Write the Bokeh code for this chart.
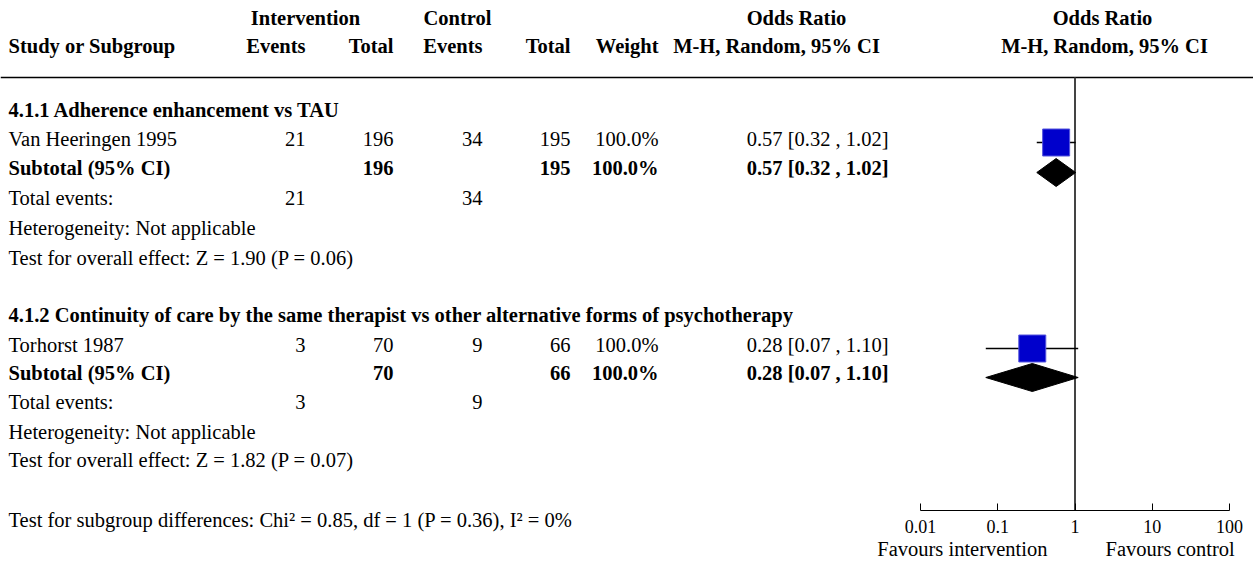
from bokeh.plotting import figure
from bokeh.models import (Range1d, LogScale, LogAxis, FixedTicker,
                          ColumnDataSource, CustomJSTickFormatter)
from bokeh.core.properties import value
from bokeh.embed import file_html
from bokeh.resources import INLINE
import math

# ---------------- data ----------------
subgroups = ["4.1.1 Adherence enhancement vs TAU",
             "4.1.2 Continuity of care by the same therapist vs other alternative forms of psychotherapy"]
studies = ["Van Heeringen 1995", "Torhorst 1987"]
int_events = [21, 3]
int_total = [196, 70]
ctrl_events = [34, 9]
ctrl_total = [195, 66]
weights = [100.0, 100.0]
or_est = [0.57, 0.28]
or_lo = [0.32, 0.07]
or_hi = [1.02, 1.10]
sub_weights = [100.0, 100.0]
sub_est = [0.57, 0.28]
sub_lo = [0.32, 0.07]
sub_hi = [1.02, 1.10]
z_values = ["1.90", "1.82"]
p_values = ["0.06", "0.07"]
subgroup_test = "Test for subgroup differences: Chi\u00b2 = 0.85, df = 1 (P = 0.36), I\u00b2 = 0%"
ticks = [0.01, 0.1, 1, 10, 100]
favours = ["Favours intervention", "Favours control"]

# ---------------- layout ----------------
FONT = value("Liberation Serif")
FS = "20.5px"
W, H = 1253, 561
OR_PX0 = 920.0                    # pixel of OR = 0.01
DEC = 77.25                       # pixels per decade
AXIS_Y = 510
log_start = -2 - OR_PX0 / DEC
log_end = 2 + (W - (OR_PX0 + 4 * DEC)) / DEC

p = figure(width=W, height=H,
           x_range=Range1d(0, W), y_range=Range1d(H, 0),
           x_axis_type=None, y_axis_type=None,
           output_backend="svg", toolbar_location=None, min_border=0)
p.outline_line_color = None
p.background_fill_color = "white"
p.border_fill_color = "white"
p.extra_x_ranges = {"or": Range1d(10 ** log_start, 10 ** log_end)}
p.extra_x_scales = {"or": LogScale()}

# column right edges
C_IE, C_IT, C_CE, C_CT, C_W, C_OR = 305, 393, 482, 570, 658, 888

texts = {k: dict(x=[], y=[], t=[]) for k in ("nl", "bl", "nr", "br", "bc")}


def add(kind, x, y, t):
    texts[kind]["x"].append(x)
    texts[kind]["y"].append(y)
    texts[kind]["t"].append(t)


# headers
H1, H2 = 17, 45
add("bc", 305, H1, "Intervention")
add("bc", 457, H1, "Control")
add("bc", 796, H1, "Odds Ratio")
add("bc", 1102, H1, "Odds Ratio")
add("bl", 8, H2, "Study or Subgroup")
add("br", C_IE, H2, "Events")
add("br", C_IT, H2, "Total")
add("br", C_CE, H2, "Events")
add("br", C_CT, H2, "Total")
add("br", C_W, H2, "Weight")
add("bc", 776, H2, "M-H, Random, 95% CI")
add("bc", 1104, H2, "M-H, Random, 95% CI")

group_base = [[109, 138, 167, 197, 227, 257], [314, 344, 372, 401, 431, 459]]
study_y, sub_y = [], []
for g in range(2):
    yb = group_base[g]
    add("bl", 8, yb[0], subgroups[g])
    add("nl", 8, yb[1], studies[g])
    add("nr", C_IE, yb[1], str(int_events[g]))
    add("nr", C_IT, yb[1], str(int_total[g]))
    add("nr", C_CE, yb[1], str(ctrl_events[g]))
    add("nr", C_CT, yb[1], str(ctrl_total[g]))
    add("nr", C_W, yb[1], f"{weights[g]:.1f}%")
    add("nr", C_OR, yb[1], f"{or_est[g]:.2f} [{or_lo[g]:.2f} , {or_hi[g]:.2f}]")
    add("bl", 8, yb[2], "Subtotal (95% CI)")
    add("br", C_IT, yb[2], str(int_total[g]))
    add("br", C_CT, yb[2], str(ctrl_total[g]))
    add("br", C_W, yb[2], f"{sub_weights[g]:.1f}%")
    add("br", C_OR, yb[2], f"{sub_est[g]:.2f} [{sub_lo[g]:.2f} , {sub_hi[g]:.2f}]")
    add("nl", 8, yb[3], "Total events:")
    add("nr", C_IE, yb[3], str(int_events[g]))
    add("nr", C_CE, yb[3], str(ctrl_events[g]))
    add("nl", 8, yb[4], "Heterogeneity: Not applicable")
    add("nl", 8, yb[5], f"Test for overall effect: Z = {z_values[g]} (P = {p_values[g]})")
    study_y.append(yb[1] + 4)
    sub_y.append(yb[2] + 5)

add("nl", 8, 519, subgroup_test)

styles = {"nl": ("normal", "left"), "bl": ("bold", "left"),
          "nr": ("normal", "right"), "br": ("bold", "right"),
          "bc": ("bold", "center")}
for k, (fs, al) in styles.items():
    src = ColumnDataSource(texts[k])
    p.text(x="x", y="y", text="t", source=src, text_font=FONT,
           text_font_size=FS, text_font_style=fs, text_align=al,
           text_baseline="alphabetic", text_color="black")

# header rule
p.segment(x0=[0], x1=[W], y0=[77], y1=[77], line_color="black", line_width=1.5)

# line of no effect
p.segment(x0=[1], x1=[1], y0=[77], y1=[AXIS_Y], x_range_name="or",
          line_color="#444444", line_width=2)

# study CIs and squares
p.segment(x0=or_lo, x1=or_hi, y0=study_y, y1=study_y, x_range_name="or",
          line_color="black", line_width=1.5)
sizes = [27 * math.sqrt(w / 100.0) for w in weights]
p.scatter(x=or_est, y=study_y, size=sizes, marker="square", x_range_name="or",
          fill_color="#0000CC", line_color="#5555dd", line_width=1)

# subtotal diamonds
HALF = 14
xs = [[lo, e, hi, e] for lo, e, hi in zip(sub_lo, sub_est, sub_hi)]
ys = [[y, y - HALF, y, y + HALF] for y in sub_y]
p.patches(xs=xs, ys=ys, x_range_name="or", fill_color="black", line_color="black")

# OR axis, drawn at a fixed location inside the frame
ax = LogAxis(x_range_name="or", ticker=FixedTicker(ticks=ticks, minor_ticks=[]),
             bounds=(ticks[0], ticks[-1]), fixed_location=AXIS_Y,
             formatter=CustomJSTickFormatter(code="return String(tick)"))
ax.major_tick_in = 7
ax.major_tick_out = 0
ax.minor_tick_in = 0
ax.minor_tick_out = 0
ax.axis_line_color = "black"
ax.major_tick_line_color = "black"
ax.major_label_text_font = "Liberation Serif"
ax.major_label_text_font_size = "18px"
ax.major_label_text_color = "black"
ax.major_label_standoff = 9
p.add_layout(ax, "below")

# favours labels, either side of the line of no effect
FAV_Y = 548
p.text(x=[1], y=[FAV_Y], text=[favours[0]], x_range_name="or", x_offset=-27.5,
       text_align="right", text_baseline="alphabetic", text_font=FONT,
       text_font_size=FS, text_color="black")
p.text(x=[1], y=[FAV_Y], text=[favours[1]], x_range_name="or", x_offset=30.5,
       text_align="left", text_baseline="alphabetic", text_font=FONT,
       text_font_size=FS, text_color="black")

open("out.html", "w").write(file_html(p, INLINE))
